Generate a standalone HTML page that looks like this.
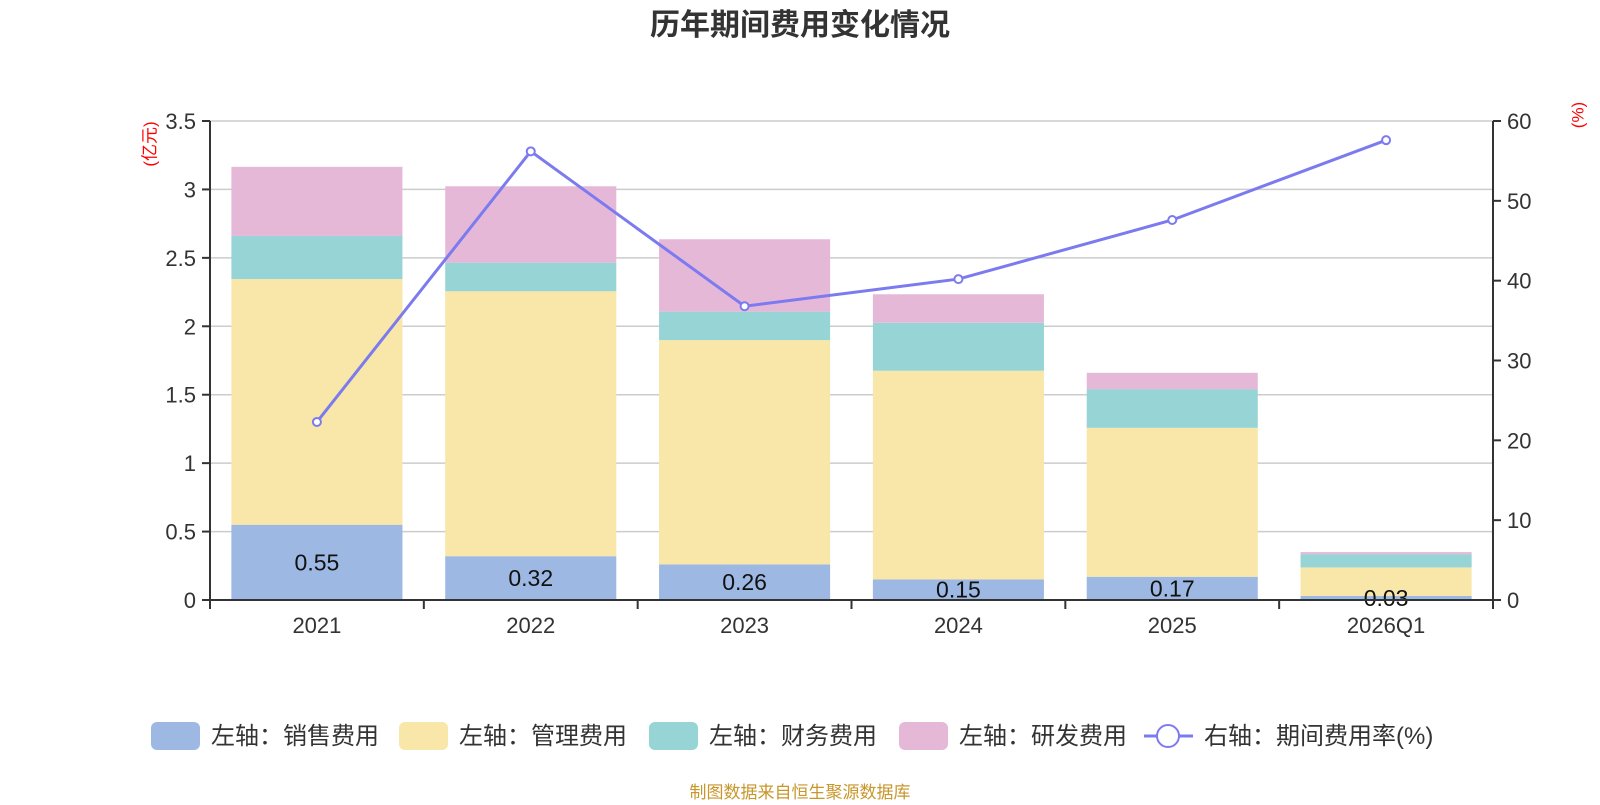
<!DOCTYPE html>
<html><head><meta charset="utf-8"><style>
body{margin:0;background:#fff;font-family:"Liberation Sans","Noto Sans CJK SC",sans-serif;}
svg text{font-family:"Liberation Sans","Noto Sans CJK SC",sans-serif;}
</style></head><body>
<svg id="c" width="1600" height="800" xmlns="http://www.w3.org/2000/svg">
<text x="800" y="35" text-anchor="middle" font-size="30" font-weight="bold" fill="#333">历年期间费用变化情况</text>
<text transform="translate(151,144) rotate(-90)" text-anchor="middle" dominant-baseline="middle" font-size="17" fill="red">(亿元)</text>
<text transform="translate(1579,115) rotate(-90)" text-anchor="middle" dominant-baseline="middle" font-size="17" fill="red">(%)</text>
<g id="grid"></g><g id="bars"></g><g id="axes"></g><g id="line"></g>
<g id="legend" font-size="24" fill="#333">
<rect x="151" y="722" width="49" height="28" rx="6" fill="#9db8e2"/>
<text x="211" y="744">左轴：销售费用</text>
<rect x="399" y="722" width="49" height="28" rx="6" fill="#f8e7a8"/>
<text x="459" y="744">左轴：管理费用</text>
<rect x="649" y="722" width="49" height="28" rx="6" fill="#97d4d5"/>
<text x="709" y="744">左轴：财务费用</text>
<rect x="899" y="722" width="49" height="28" rx="6" fill="#e6b8d8"/>
<text x="959" y="744">左轴：研发费用</text>
<line x1="1144" y1="736" x2="1193" y2="736" stroke="#7b7bef" stroke-width="3"/>
<circle cx="1168" cy="736" r="11" fill="#fff" stroke="#7b7bef" stroke-width="2"/>
<text x="1204" y="744">右轴：期间费用率(%)</text>
</g>
<text x="800" y="798" text-anchor="middle" font-size="17" fill="#c8962a">制图数据来自恒生聚源数据库</text>
</svg>
<script>
const categories=["2021","2022","2023","2024","2025","2026Q1"];
const sales=[0.55,0.32,0.26,0.15,0.17,0.03];
const mgmt=[1.795,1.936,1.639,1.525,1.088,0.208];
const fin=[0.315,0.209,0.208,0.35,0.283,0.097];
const rd=[0.505,0.558,0.529,0.209,0.119,0.015];
const rate=[22.3,56.2,36.8,40.2,47.6,57.6];
const leftTicks=[0,0.5,1,1.5,2,2.5,3,3.5];
const rightTicks=[0,10,20,30,40,50,60];
const NS="http://www.w3.org/2000/svg";
const X0=210,X1=1493,Y0=600,Y1=121;
const yL=v=>Y0-(v/3.5)*(Y0-Y1);
const yR=v=>Y0-(v/60)*(Y0-Y1);
const cw=(X1-X0)/categories.length;
const xc=i=>X0+cw*(i+0.5);
function mk(t,a,p){const e=document.createElementNS(NS,t);for(const k in a)e.setAttribute(k,a[k]);document.getElementById(p).appendChild(e);return e;}
leftTicks.forEach((v,i)=>{
 if(i>0){const g=mk('line',{x1:X0,x2:X1,y1:yL(v),y2:yL(v),stroke:'#ccc','stroke-width':1.5},'grid');
 
 }
 const t=mk('text',{x:X0-14,y:yL(v)+8,'text-anchor':'end','font-size':22,fill:'#333'},'axes');t.textContent=v;
 
 
 mk('line',{x1:X0-8,x2:X0,y1:yL(v),y2:yL(v),stroke:'#333','stroke-width':2},'axes');
});
rightTicks.forEach(v=>{
 const t=mk('text',{x:X1+14,y:yR(v)+8,'font-size':22,fill:'#333'},'axes');t.textContent=v;
 
 
 mk('line',{x1:X1,x2:X1+8,y1:yR(v),y2:yR(v),stroke:'#333','stroke-width':2},'axes');
});
mk('line',{x1:X0,x2:X0,y1:Y1,y2:Y0+9,stroke:'#333','stroke-width':2},'axes');
mk('line',{x1:X1,x2:X1,y1:Y1,y2:Y0+9,stroke:'#333','stroke-width':2},'axes');
mk('line',{x1:X0,x2:X1,y1:Y0,y2:Y0,stroke:'#333','stroke-width':2},'axes');
for(let i=0;i<=categories.length;i++)mk('line',{x1:X0+cw*i,x2:X0+cw*i,y1:Y0,y2:Y0+9,stroke:'#333','stroke-width':2},'axes');
const series=[[sales,'#9db8e2','sales'],[mgmt,'#f8e7a8','mgmt'],[fin,'#97d4d5','fin'],[rd,'#e6b8d8','rd']];
const bw=cw*0.8;
categories.forEach((c,i)=>{
 let base=0;
 series.forEach(([arr,col,nm])=>{
  const top=base+arr[i];
  const r=mk('rect',{x:xc(i)-bw/2,y:yL(top),width:bw,height:yL(base)-yL(top),fill:col},'bars');
  
  
  base=top;
 });
 const l=mk('text',{x:xc(i),y:(yL(0)+yL(sales[i]))/2+8,'text-anchor':'middle','font-size':23,fill:'#111'},'bars');
 l.textContent=sales[i].toFixed(2);
 
 
 const t=mk('text',{x:xc(i),y:Y0+33,'text-anchor':'middle','font-size':22,fill:'#333'},'axes');t.textContent=c;
 
 
});
const pl=mk('polyline',{points:rate.map((v,i)=>xc(i)+','+yR(v)).join(' '),fill:'none',stroke:'#7b7bef','stroke-width':3},'line');


rate.forEach((v,i)=>{const p=mk('circle',{cx:xc(i),cy:yR(v),r:4,fill:'#fff',stroke:'#7b7bef','stroke-width':2},'line');
 
 });
</script>
</body></html>
